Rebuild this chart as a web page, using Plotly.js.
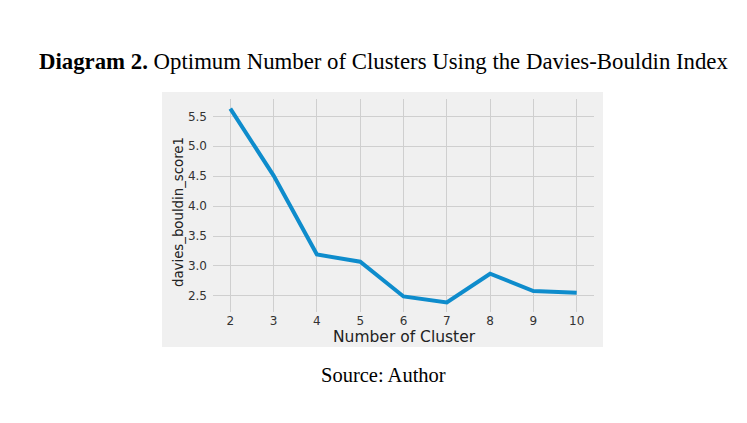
<!DOCTYPE html>
<html><head><meta charset="utf-8">
<script src="https://cdn.plot.ly/plotly-3.0.1.min.js"></script>
<style>html,body{margin:0;padding:0;background:#fff}#chart{width:747px;height:423px}</style>
</head><body><div id="chart"></div>
<script>
const clusters = [2, 3, 4, 5, 6, 7, 8, 9, 10];
const dbScores = [5.63, 4.51, 3.19, 3.07, 2.49, 2.39, 2.87, 2.58, 2.55];
const xTicks = [2, 3, 4, 5, 6, 7, 8, 9, 10];
const yTicks = [2.5, 3.0, 3.5, 4.0, 4.5, 5.0, 5.5];

const L = 213, R = 594, T = 99, B = 312;
const px = x => (x - L) / (R - L);
const py = y => (B - y) / (B - T);

const trace = {
  x: clusters, y: dbScores, type: 'scatter', mode: 'lines',
  line: {color: '#0e8ccc', width: 4}, hoverinfo: 'skip'
};
const layout = {
  width: 747, height: 423,
  margin: {l: L, r: 747 - R, t: T, b: 423 - B},
  paper_bgcolor: '#ffffff', plot_bgcolor: '#f0f0f0',
  showlegend: false,
  xaxis: {
    range: [1.6, 10.4], tickvals: xTicks, ticktext: xTicks.map(String),
    showgrid: true, gridcolor: '#cfcfcf', gridwidth: 1, zeroline: false,
    showline: false, ticks: '', ticklabelstandoff: 0,
    tickfont: {family: 'DejaVu Sans', size: 12, color: '#333'}
  },
  yaxis: {
    range: [2.23, 5.79], tickvals: yTicks, ticktext: yTicks.map(v => v.toFixed(1)),
    showgrid: true, gridcolor: '#cfcfcf', gridwidth: 1, zeroline: false,
    showline: false, ticks: '', ticklabelstandoff: 5,
    tickfont: {family: 'DejaVu Sans', size: 12, color: '#333'}
  },
  shapes: [{
    type: 'rect', xref: 'paper', yref: 'paper', layer: 'below',
    x0: px(162), x1: px(603), y0: py(347), y1: py(92),
    fillcolor: '#f0f0f0', line: {width: 0}
  }],
  annotations: [
    {xref: 'paper', yref: 'paper', x: px(383), y: py(61),
     xanchor: 'center', yanchor: 'middle', showarrow: false,
     text: '<b>Diagram 2.</b> Optimum Number of Clusters Using the Davies-Bouldin Index',
     font: {family: 'Liberation Serif', size: 22.8, color: '#000'}},
    {xref: 'paper', yref: 'paper', x: px(383), y: py(375),
     xanchor: 'center', yanchor: 'middle', showarrow: false,
     text: 'Source: Author',
     font: {family: 'Liberation Serif', size: 20.5, color: '#000'}},
    {xref: 'paper', yref: 'paper', x: px(404), y: py(337),
     xanchor: 'center', yanchor: 'middle', showarrow: false,
     text: 'Number of Cluster',
     font: {family: 'DejaVu Sans', size: 15.5, color: '#222'}},
    {xref: 'paper', yref: 'paper', x: px(178), y: py(212),
     xanchor: 'center', yanchor: 'middle', showarrow: false, textangle: -90,
     text: 'davies_bouldin_score1',
     font: {family: 'DejaVu Sans', size: 13.3, color: '#222'}}
  ]
};
Plotly.newPlot('chart', [trace], layout, {displayModeBar: false, staticPlot: true});
</script></body></html>
